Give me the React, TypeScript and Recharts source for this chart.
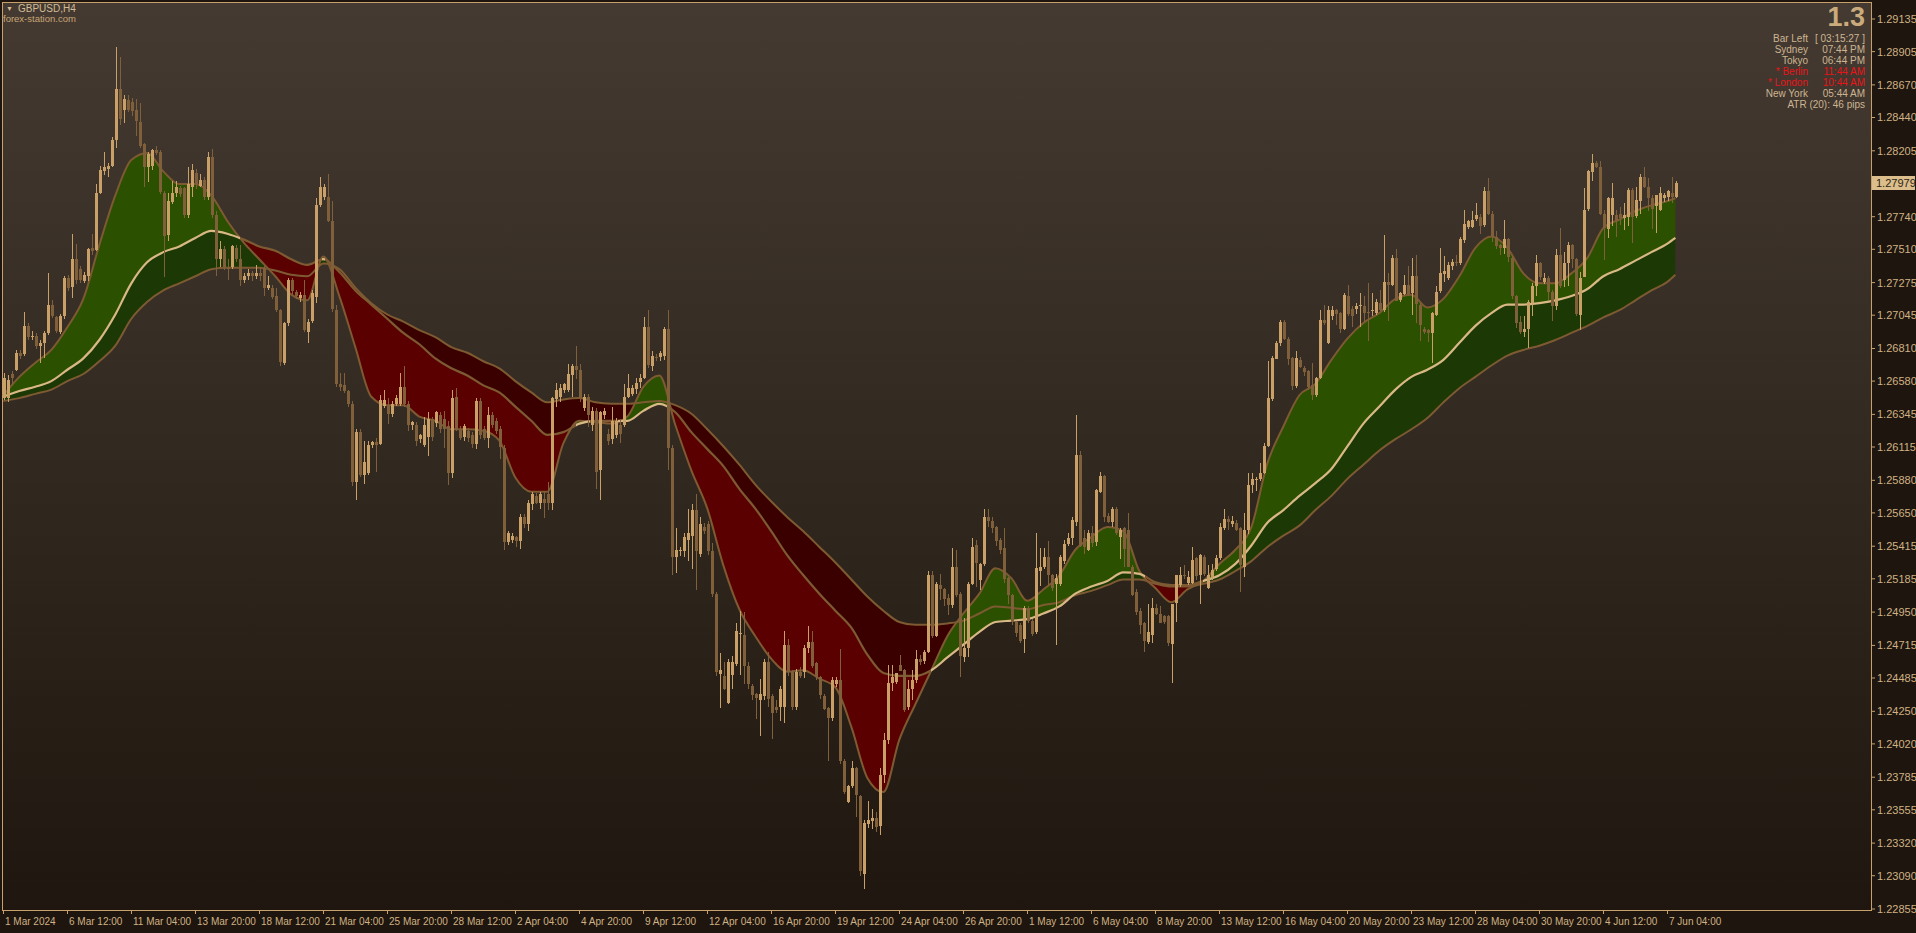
import React from 'react';
import { ComposedChart, Bar, Line, Area, XAxis, YAxis, ReferenceLine } from 'recharts';

// GBPUSD H4, values in pips above 1.2000 (e.g. 646 -> 1.2646)
const BASE = 1.2;
const PIP = 0.0001;

const OPEN = [
  646,646,663,666,678,677,697,689,690,683, 685,692,712,703,693,704,731,724,744,737,
  729,732,752,751,791,806,808,810,828,864, 849,856,855,849,841,825,809,810,821,820,
  791,761,785,791,794,794,775,795,805,796, 800,788,816,775,744,751,738,738,752,744,
  729,732,734,732,734,738,724,724,718,708, 671,699,729,721,717,719,693,700,717,782,
  788,788,771,708,656,655,651,642,587,622, 592,593,613,615,614,641,641,635,642,642,
  654,642,627,627,617,613,618,631,628,634, 631,626,593,647,624,618,623,620,614,644,
  624,618,634,630,624,611,545,546,548,545, 562,557,571,577,572,575,578,572,646,647,
  652,652,663,669,666,639,647,627,637,595, 634,621,617,620,627,627,647,649,653,657,
  660,696,669,675,675,676,695,611,534,538, 538,546,549,567,536,555,557,538,508,451,
  450,431,451,459,479,479,457,443,437,433, 436,460,436,428,428,428,472,453,428,453,
  453,470,474,459,449,436,427,420,444,447, 390,361,372,385,365,310,345,348,350,344,
  380,405,445,446,458,454,428,441,447,462, 461,467,521,478,514,511,505,500,527,508,
  464,470,515,542,518,529,562,559,555,546, 540,519,507,488,486,476,498,489,481,524,
  527,534,521,515,515,531,543,547,559,606, 547,539,551,544,580,591,563,559,568,548,
  554,553,527,509,496,487,474,479,498,494, 492,492,473,501,514,521,516,516,533,521,
  534,512,520,525,533,555,561,557,558,554, 527,553,585,588,589,593,612,645,674,685,
  700,688,674,654,673,667,665,655,648,660, 701,685,704,708,706,695,718,709,709,711,
  711,707,707,706,713,708,728,726,745,715, 720,726,720,732,712,695,694,692,705,721,
  734,731,739,742,741,758,767,767,772,774, 768,792,776,760,754,752,758,745,718,700,
  693,695,713,725,741,728,731,721,711,747, 729,741,754,744,705,732,779,806,812,809,
  776,765,775,775,776,773,774,793,775,785, 802,795,787,781,779,787,788,791,788,
];
const HIGH = [
  664,662,665,680,680,707,699,693,692,687, 693,734,715,704,705,732,733,762,755,739,
  735,752,762,797,810,820,812,830,894,887, 860,860,858,857,854,826,820,822,824,821,
  792,791,799,799,796,795,809,811,808,804, 802,820,822,778,757,753,744,754,754,754,
  734,737,736,740,738,739,732,726,724,709, 700,731,731,722,721,729,702,722,787,802,
  797,804,785,712,664,664,652,644,624,624, 616,616,616,618,648,652,646,644,648,664,
  669,644,630,629,621,633,636,633,637,636, 637,630,652,653,626,628,625,622,646,646,
  626,640,636,632,626,613,552,551,549,564, 564,574,580,579,580,580,587,647,657,656,
  657,670,670,683,670,649,649,640,639,637, 639,624,640,632,631,656,663,655,660,663,
  703,708,679,677,679,696,708,613,554,541, 551,568,571,578,562,558,559,544,509,466,
  460,462,464,487,496,495,460,444,438,448, 462,467,437,433,443,482,476,454,455,456,
  472,485,482,460,450,437,428,449,449,469, 391,373,390,386,366,348,362,356,354,385,
  410,458,458,452,465,455,447,454,468,465, 468,524,524,516,522,512,508,540,539,509,
  491,516,547,546,530,568,568,562,556,547, 554,520,508,489,487,499,499,490,551,540,
  540,545,522,522,535,546,551,562,634,609, 553,553,556,582,594,592,565,569,569,554,
  555,565,528,511,498,488,501,505,501,499, 493,493,501,521,527,528,524,541,534,536,
  535,528,529,535,558,568,563,563,560,555, 565,593,593,590,600,614,672,676,686,701,
  701,689,675,679,675,669,666,671,661,708, 712,711,711,709,707,720,726,711,713,720,
  718,727,720,716,722,761,734,747,751,721, 733,739,745,747,713,696,695,707,725,752,
  746,742,744,747,760,779,772,778,784,776, 795,801,778,764,755,772,759,746,719,704,
  704,715,727,747,742,734,732,722,751,766, 749,756,755,745,735,794,807,818,813,813,
  779,788,798,779,781,784,794,794,795,804, 809,801,789,789,795,791,793,802,799,
];
const LOW = [
  645,643,656,665,674,676,687,687,681,671, 674,690,702,692,691,702,722,717,727,727,
  727,729,747,750,790,804,802,809,823,839, 840,848,845,831,822,795,799,807,818,790,
  731,757,783,788,788,773,773,788,794,795, 786,786,773,732,739,736,729,737,742,725,
  727,729,729,730,729,718,722,716,707,669, 670,697,719,716,714,692,685,699,713,781,
  786,770,707,654,651,650,640,584,574,590, 586,592,611,594,613,639,628,633,640,641,
  640,623,624,612,615,612,605,616,626,621, 611,585,590,623,616,616,615,611,610,617,
  616,611,625,621,603,539,542,544,541,539, 554,552,567,571,568,562,567,567,640,643,
  650,650,647,660,643,637,626,623,582,574, 631,613,614,618,614,626,646,647,649,653,
  659,667,665,672,672,673,595,521,522,535, 534,531,525,510,534,550,535,506,450,427,
  440,430,441,457,451,444,441,433,420,408, 433,428,405,424,418,417,450,426,426,448,
  449,466,456,447,434,426,390,418,442,388, 366,360,371,351,309,299,343,342,340,338,
  375,402,440,444,454,425,426,433,445,458, 458,466,477,477,504,499,493,498,506,449,
  460,463,514,513,511,528,555,551,542,536, 515,501,486,478,473,466,487,478,480,513,
  525,513,510,472,513,529,542,542,556,541, 536,538,541,542,579,559,558,555,549,532,
  527,527,506,493,480,467,473,473,493,487, 487,471,445,488,513,518,514,515,518,501,
  520,511,518,524,532,553,553,555,552,509, 520,550,579,580,587,592,611,644,673,683,
  687,669,652,653,667,662,652,645,647,659, 698,684,701,698,692,694,704,696,705,696,
  700,686,704,705,707,707,700,725,714,714, 719,718,705,699,686,691,686,671,704,720,
  728,729,736,739,740,756,766,766,771,762, 767,775,756,751,747,748,742,716,696,691,
  689,681,704,718,729,726,715,700,708,724, 724,725,738,704,694,731,778,799,808,775,
  744,759,768,760,768,765,767,755,773,776, 794,778,765,762,778,785,785,784,787,
];
const CLOSE = [
  660,659,660,678,676,697,689,690,683,685, 692,712,704,693,704,731,724,744,729,729,
  733,751,750,791,807,809,810,828,864,843, 857,849,849,841,824,809,818,821,819,792,
  761,785,791,795,790,775,797,807,797,800, 788,816,775,744,751,738,737,753,744,729,
  732,734,732,734,732,724,726,718,708,671, 699,729,721,718,719,694,700,720,782,795,
  795,771,709,656,654,651,642,587,622,592, 601,613,615,613,645,645,635,642,646,654,
  642,627,629,616,620,627,631,618,636,624, 624,593,646,624,618,626,618,614,644,620,
  618,634,627,623,611,545,551,549,545,562, 557,572,578,572,578,572,572,646,652,653,
  656,663,669,666,646,647,634,637,594,636, 637,616,630,630,621,647,653,653,657,660,
  696,669,676,674,678,695,611,534,539,539, 548,551,567,538,557,552,538,508,453,454,
  441,460,460,482,480,457,444,437,434,437, 460,434,424,426,441,472,453,428,453,450,
  470,474,457,449,436,427,420,447,447,390, 368,372,385,366,312,346,348,350,344,380,
  405,445,449,452,454,426,441,447,462,460, 467,521,478,515,511,504,500,527,507,464,
  470,515,541,529,529,562,559,554,545,539, 518,507,488,480,475,498,489,480,526,527,
  534,521,512,519,534,543,547,560,606,542, 541,551,544,581,591,562,559,568,551,553,
  539,527,507,495,486,474,481,498,494,488, 488,473,501,521,521,520,520,532,520,535,
  522,521,525,533,555,561,559,559,553,528, 553,585,589,589,593,612,646,674,685,700,
  688,674,654,674,668,664,654,648,660,701, 699,708,708,705,695,719,705,704,711,712,
  706,706,708,714,708,728,726,745,715,720, 726,720,732,712,698,693,692,706,721,734,
  736,740,742,741,758,769,771,772,775,768, 792,776,760,754,752,758,745,718,699,693,
  695,714,725,741,731,731,721,711,747,725, 741,754,744,705,731,779,806,812,809,776,
  766,787,787,771,773,775,793,774,786,802, 795,787,779,789,791,789,792,788,798,
];

// band lines, read every 4 bars (pips above 1.2000)
const BAND_BAR = [
  0,4,8,12,16,20,24,28,32,36, 40,44,48,52,56,60,64,68,72,76,
  80,84,88,92,96,100,104,108,112,116, 120,124,128,132,136,140,144,148,152,156,
  160,164,168,172,176,180,184,188,192,196, 200,204,208,212,216,220,224,228,232,236,
  240,244,248,252,256,260,264,268,272,276, 280,284,288,292,296,300,304,308,312,316,
  320,324,328,332,336,340,344,348,352,356, 360,364,368,372,376,380,384,388,392,396,
  400,404,408,412,416,418,
];
const FAST = [
  648,661,671,680,696,716,754,789,814,819, 806,797,797,789,771,756,744,732,719,715,
  746,718,682,647,641,641,633,630,624,624, 623,616,590,580,580,614,630,629,628,633,
  654,662,627,595,568,528,497,478,462,453, 454,448,442,414,378,368,405,430,454,478,
  494,508,526,519,503,511,521,539,548,555, 552,524,512,502,511,517,529,539,555,600,
  626,648,656,673,688,699,706,716,719,710, 716,732,752,760,752,734,727,727,734,745,
  766,772,778,782,785,787,
];
const MID = [
  647,651,654,658,666,674,687,705,727,742, 749,753,759,764,762,758,753,750,744,740,
  744,735,722,712,702,692,684,674,667,662, 655,650,640,630,620,622,628,630,630,630,
  637,642,636,622,610,598,582,568,552,535, 521,508,496,484,465,452,450,450,454,463,
  472,481,488,489,490,494,499,508,513,517, 523,522,516,514,514,517,521,529,542,558,
  567,577,586,596,612,628,640,652,661,666, 673,685,697,706,712,712,713,715,718,723,
  732,737,743,749,755,759,
];
const SLOW = [
  644,646,649,652,658,663,672,683,702,714, 722,727,732,737,738,738,738,736,733,732,
  741,737,724,713,705,700,694,689,682,678, 672,667,658,650,643,645,646,643,642,642,
  643,644,641,635,624,612,599,585,573,562, 552,541,530,518,506,496,488,486,486,487,
  489,494,499,498,497,500,502,507,510,514, 518,518,515,513,513,515,518,524,531,541,
  549,556,567,577,589,599,609,617,624,632, 643,653,661,669,676,680,683,687,692,697,
  703,708,715,722,728,733,
];

const TIME_TICKS = [0,16,32,48,64,80,96,112,128,144,160,176,192,208,224,240,256,272,288,304,320,336,352,368,384,400,416];
const TIME_LABELS = [
  '1 Mar 2024','6 Mar 12:00','11 Mar 04:00','13 Mar 20:00','18 Mar 12:00','21 Mar 04:00','25 Mar 20:00',
  '28 Mar 12:00','2 Apr 04:00','4 Apr 20:00','9 Apr 12:00','12 Apr 04:00','16 Apr 20:00','19 Apr 12:00',
  '24 Apr 04:00','26 Apr 20:00','1 May 12:00','6 May 04:00','8 May 20:00','13 May 12:00','16 May 04:00',
  '20 May 20:00','23 May 12:00','28 May 04:00','30 May 20:00','4 Jun 12:00','7 Jun 04:00',
];
const PRICE_TICKS = [
  1.29135,1.28905,1.2867,1.2844,1.28205,1.2774,1.2751,1.27275,1.27045,1.2681,1.2658,1.26345,1.26115,
  1.2588,1.2565,1.25415,1.25185,1.2495,1.24715,1.24485,1.2425,1.2402,1.23785,1.23555,1.2332,1.2309,1.22855,
];
const LAST_PRICE = 1.27979;

const PANEL_ROWS = [
  ['Bar Left', '[ 03:15:27 ]', false],
  ['Sydney', '07:44 PM', false],
  ['Tokyo', '06:44 PM', false],
  ['* Berlin', '11:44 AM', true],
  ['* London', '10:44 AM', true],
  ['New York', '05:44 AM', false],
];

const W = 1916;
const H = 933;
const X_DOMAIN = [-0.325, 466.9];
const Y_DOMAIN = [1.22848, 1.29255];

const OUTER_BG = '#1d150e';
const BORDER = '#c8a06c';
const TEXT = '#d0b284';
const BULL = '#c9a068';
const BEAR = '#80603a';
const LINE_BROWN = '#7d5a32';
const TAN = '#d9b886';
const GREEN = '#2b5100';
const GREEN_DARK = '#1c3805';
const RED = '#5a0000';
const RED_DARK = '#3a0000';
const FONT = "'Liberation Sans', Arial, sans-serif";
const AXIS_FONT = "'Liberation Sans Narrow', 'Liberation Sans', Arial, sans-serif";

const toPrice = (p: number) => BASE + p * PIP;

const candles = OPEN.map((o, i) => ({
  i,
  o: toPrice(o),
  h: toPrice(HIGH[i]),
  l: toPrice(LOW[i]),
  c: toPrice(CLOSE[i]),
  range: [toPrice(LOW[i]), toPrice(HIGH[i])],
}));

const bands = BAND_BAR.map((bar, k) => ({
  i: bar,
  fast: toPrice(FAST[k]),
  mid: toPrice(MID[k]),
  slow: toPrice(SLOW[k]),
  inner: [toPrice(MID[k]), toPrice(FAST[k])],
  outer: [toPrice(MID[k]), toPrice(SLOW[k])],
}));

// colour stops along x, switching where series a crosses series b
function crossStops(a: number[], b: number[], up: string, down: string) {
  const x0 = BAND_BAR[0];
  const span = BAND_BAR[BAND_BAR.length - 1] - x0;
  let cur = a[0] >= b[0] ? up : down;
  const stops = [{ off: 0, color: cur }];
  for (let k = 1; k < a.length; k++) {
    const d0 = a[k - 1] - b[k - 1];
    const d1 = a[k] - b[k];
    if ((d0 >= 0) !== (d1 >= 0)) {
      const t = d0 / (d0 - d1);
      const x = BAND_BAR[k - 1] + t * (BAND_BAR[k] - BAND_BAR[k - 1]);
      const off = (x - x0) / span;
      stops.push({ off, color: cur });
      cur = d1 >= 0 ? up : down;
      stops.push({ off, color: cur });
    }
  }
  stops.push({ off: 1, color: cur });
  return stops;
}

const innerStops = crossStops(FAST, MID, GREEN, RED);
const outerStops = crossStops(MID, SLOW, GREEN_DARK, RED_DARK);
const midStops = crossStops(FAST, MID, TAN, LINE_BROWN);

const Grad = ({ id, stops }: { id: string; stops: { off: number; color: string }[] }) => (
  <linearGradient id={id} x1="0" y1="0" x2="1" y2="0">
    {stops.map((s, k) => (
      <stop key={k} offset={s.off} stopColor={s.color} />
    ))}
  </linearGradient>
);

const Candle = (props: any) => {
  const { x, y, width, height, payload } = props;
  if (!payload || x == null || y == null) return null;
  const top = Math.min(y, y + height);
  const span = Math.abs(height);
  const { o, h, l, c } = payload;
  const toY = (v: number) => top + (h === l ? 0 : ((h - v) / (h - l)) * span);
  const cx = Math.round(x + width / 2);
  const color = c >= o ? BULL : BEAR;
  const yo = toY(o);
  const yc = toY(c);
  const bTop = Math.round(Math.min(yo, yc));
  const bH = Math.max(1, Math.round(Math.abs(yo - yc)));
  return (
    <g>
      <rect x={cx} y={Math.round(top)} width={1} height={Math.max(1, Math.round(span))} fill={color} />
      <rect x={cx - 1} y={bTop} width={3} height={bH} fill={color} />
    </g>
  );
};

const TimeTick = (props: any) => {
  const { x, y, payload } = props;
  const k = TIME_TICKS.indexOf(payload.value);
  const lx = Math.floor(x) + 0.5;
  return (
    <g>
      <line x1={lx} x2={lx} y1={y} y2={y + 4} stroke={BORDER} />
      <text x={lx + 1.5} y={y + 15} fill={TEXT} fontSize={10} fontFamily={AXIS_FONT}>
        {TIME_LABELS[k]}
      </text>
    </g>
  );
};

const PriceTag = (props: any) => {
  const { viewBox } = props;
  if (!viewBox) return null;
  const x = viewBox.x + viewBox.width;
  const y = Math.round(viewBox.y);
  return (
    <g>
      <rect x={x + 1} y={y - 7} width={43} height={14} fill="#dcbe8c" />
      <text x={x + 5} y={y + 4} fill="#2a1e12" fontSize={11} fontFamily={AXIS_FONT}>
        {LAST_PRICE.toFixed(5)}
      </text>
    </g>
  );
};

export default function App() {
  return (
    <div style={{ position: 'fixed', left: 0, top: 0, width: W, height: H, background: OUTER_BG, overflow: 'hidden' }}>
      <div
        style={{
          position: 'absolute', left: 2, top: 2, width: 1870, height: 909, boxSizing: 'border-box',
          border: `1px solid ${BORDER}`, background: 'linear-gradient(to bottom, #443a31, #1f170f)',
        }}
      />
      <div style={{ position: 'absolute', left: 0, top: 0 }}>
        <ComposedChart width={W} height={H} data={candles} margin={{ top: 2, right: 0, bottom: 0, left: 2 }}>
          <defs>
            <Grad id="innerFill" stops={innerStops} />
            <Grad id="outerFill" stops={outerStops} />
            <Grad id="midStroke" stops={midStops} />
          </defs>
          <XAxis
            type="number" dataKey="i" domain={X_DOMAIN} allowDataOverflow ticks={TIME_TICKS} interval={0}
            height={23} axisLine={false} tickLine={false} tickSize={0} tickMargin={0} tick={<TimeTick />}
          />
          <YAxis
            type="number" orientation="right" domain={Y_DOMAIN} allowDataOverflow ticks={PRICE_TICKS} interval={0}
            width={45} axisLine={false} tickLine={{ stroke: BORDER }} tickSize={4} tickMargin={2}
            tick={{ fill: TEXT, fontSize: 11, fontFamily: AXIS_FONT }} tickFormatter={(v: number) => v.toFixed(5)}
          />
          <Area type="monotone" data={bands} dataKey="outer" stroke="none" fill="url(#outerFill)" fillOpacity={1} isAnimationActive={false} activeDot={false} />
          <Area type="monotone" data={bands} dataKey="inner" stroke="none" fill="url(#innerFill)" fillOpacity={1} isAnimationActive={false} activeDot={false} />
          <Line type="monotone" data={bands} dataKey="slow" stroke={LINE_BROWN} strokeWidth={2} dot={false} activeDot={false} isAnimationActive={false} />
          <Line type="monotone" data={bands} dataKey="fast" stroke={LINE_BROWN} strokeWidth={2} dot={false} activeDot={false} isAnimationActive={false} />
          <Line type="monotone" data={bands} dataKey="mid" stroke="url(#midStroke)" strokeWidth={2.2} dot={false} activeDot={false} isAnimationActive={false} />
          <Bar dataKey="range" barSize={3} shape={<Candle />} isAnimationActive={false} zIndex={500} />
          <ReferenceLine y={LAST_PRICE} stroke="none" label={<PriceTag />} />
        </ComposedChart>
      </div>

      <div style={{ position: 'absolute', left: 6, top: 3, fontFamily: FONT, fontSize: 10, lineHeight: '12px', color: '#d2bb96' }}>
        <span style={{ fontSize: 7, marginRight: 5, position: 'relative', top: -1 }}>▼</span>GBPUSD,H4
      </div>
      <div style={{ position: 'absolute', left: 3, top: 13, fontFamily: FONT, fontSize: 9.5, lineHeight: '12px', color: '#c8a676' }}>
        forex-station.com
      </div>

      <div style={{ position: 'absolute', left: 1700, width: 165, top: 2, textAlign: 'right', fontFamily: FONT, fontSize: 27, fontWeight: 'bold', lineHeight: '30px', color: '#cbab7c' }}>
        1.3
      </div>
      {PANEL_ROWS.map(([label, value, red], k) => (
        <React.Fragment key={k}>
          <div style={{ position: 'absolute', left: 1700, width: 108, top: 33 + 11 * k, textAlign: 'right', fontFamily: FONT, fontSize: 10, lineHeight: '11px', color: red ? '#e8141a' : '#cdb592' }}>
            {label as string}
          </div>
          <div style={{ position: 'absolute', left: 1790, width: 75, top: 33 + 11 * k, textAlign: 'right', fontFamily: FONT, fontSize: 10, lineHeight: '11px', color: red ? '#e8141a' : '#cdb592' }}>
            {value as string}
          </div>
        </React.Fragment>
      ))}
      <div style={{ position: 'absolute', left: 1700, width: 165, top: 99, textAlign: 'right', fontFamily: FONT, fontSize: 10, lineHeight: '11px', color: '#cdb592' }}>
        ATR (20): 46 pips
      </div>
    </div>
  );
}
